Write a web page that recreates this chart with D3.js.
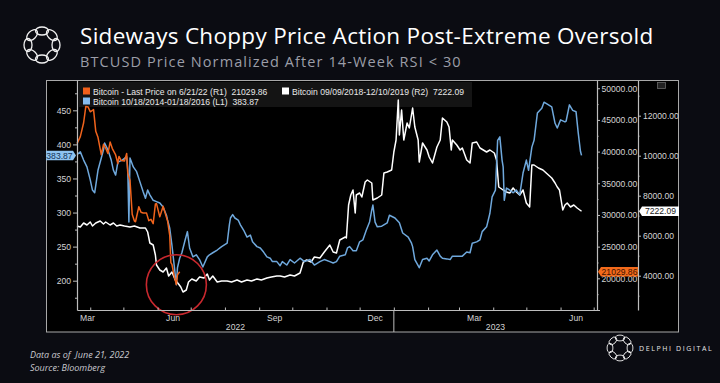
<!DOCTYPE html>
<html>
<head>
<meta charset="utf-8">
<script src="https://cdn.jsdelivr.net/npm/d3@7"></script>
<style>
  html, body { margin: 0; padding: 0; background: #0b0c12; }
  svg { display: block; }
</style>
</head>
<body>
<svg id="chart" width="720" height="383"></svg>
<script>
// all three series are counted in days from the RSI < 30 signal
var startDate = new Date(2022, 2, 20);
var axisEnd = new Date(2023, 6, 4);

// Bitcoin 2022 (R1)
var btc22Days = [0,3,6,8,10,12,15,17,19,22,24,26,28,30,32,35,37,38,40,43,45,46,48,50,52,53,56,58,60,63,65,67,69,71,72,75,78,80,82,84,85,86,88,90,91,93];
var btc22Vals = [41260,42370,44550,47130,47060,46280,46620,43200,42250,39520,41150,40550,39700,41500,40480,39470,38120,39240,38600,38530,39700,36580,35470,30100,29030,28930,31300,30440,30320,30290,29100,29300,28630,31720,31790,29700,31370,30210,29090,26760,22490,22200,20380,19020,20550,21029.86];

// Bitcoin 10/18/2014-01/18/2016 (L1)
var btc14Days = [0,3,6,9,12,14,16,19,22,24,25,28,31,33,35,37,41,45,46,47,48,51,54,57,60,62,64,66,69,72,75,78,81,82,84,86,88,90,91,93,95,98,100,102,105,108,111,114,118,120,123,127,131,136,138,139,141,143,146,148,151,154,157,159,163,166,169,172,175,177,181,184,186,190,193,197,202,206,211,215,220,224,229,232,235,238,243,245,247,250,253,256,259,262,265,267,268,270,272,276,281,283,288,292,295,300,303,304,306,309,310,313,317,319,322,326,329,331,335,338,340,345,349,353,356,358,362,365,367,371,374,376,379,381,383,385,386,387,389,392,395,398,401,404,407,409,412,414,417,421,423,426,430,433,435,438,442,443,446,449,452,454,456,457];
var btc14Vals = [385,389,377,367,348,333,329,362,380,392,402,392,377,362,355,374,377,382,362,286,380,367,360,345,330,321,333,326,318,316,314,308,296,289,277,252,223,194,219,233,241,260,272,248,235,238,231,220,235,238,241,245,250,255,282,292,297,292,289,282,274,264,267,257,250,248,242,235,233,228,228,222,228,223,231,226,233,228,231,223,228,231,228,226,228,236,238,248,250,244,244,257,260,274,286,304,311,286,279,280,285,296,292,285,270,264,255,250,231,222,219,231,233,229,238,245,236,233,232,231,236,236,236,242,241,255,257,260,272,279,299,323,333,406,411,377,367,318,336,333,329,333,326,358,377,362,396,406,446,453,462,459,455,431,424,436,433,434,458,450,448,417,390,383.87];

// Bitcoin 09/09/2018-12/10/2019 (R2)
var btc18Days = [0,3,6,9,12,14,17,21,24,26,30,33,36,39,43,48,52,57,62,64,66,69,71,72,75,78,81,83,86,89,92,94,96,99,101,104,108,111,115,118,120,123,127,131,136,140,145,149,154,158,163,167,172,176,181,184,188,193,197,202,205,208,212,215,220,224,229,232,235,238,243,244,246,248,250,252,253,256,258,261,263,267,268,272,276,278,281,285,287,289,291,292,294,296,299,301,304,306,309,310,313,317,319,322,326,329,331,335,337,339,340,344,347,349,353,356,358,362,365,368,371,374,378,380,382,386,389,392,395,398,401,404,407,410,412,414,418,422,425,430,433,435,437,440,442,444,447,450,453,457];
var btc18Vals = [6485,6435,6635,6535,6685,6485,6635,6735,6585,6685,6535,6635,6485,6535,6485,6435,6485,6385,6385,6185,5635,5535,5035,4535,4285,4185,4385,3985,4185,3785,3585,3435,3185,3285,3685,3835,3735,3935,3885,4085,3785,3985,3685,3735,3735,3685,3785,3685,3785,3735,3835,3785,3885,3935,3985,3985,3935,4035,3985,4135,4685,4785,4685,4935,4885,5185,5535,5185,5135,5785,5935,5885,7535,8035,8285,7135,8035,8135,7935,8685,8785,8635,7785,7885,8035,9135,9185,9285,10185,10785,12785,11035,12285,10785,11635,11385,12385,11435,10785,9685,10635,10285,9935,9635,10435,10785,11885,11685,11435,10285,10785,10535,10285,10385,9785,9635,10635,10685,10385,10285,10185,10285,10135,9785,8435,8285,8185,8135,8385,8185,8035,8285,7635,7435,9535,9535,9385,9285,9135,8885,8635,8435,8285,7285,7535,7635,7435,7535,7385,7222.09];

var leftTicks = [200, 250, 300, 350, 400, 450];
var r1Ticks = [15000, 20000, 25000, 30000, 35000, 40000, 45000, 50000];
var r2Ticks = [4000, 6000, 8000, 10000, 12000];
var monthLabelDates = ["2022-03-15", "2022-06-15", "2022-09-15", "2022-12-15", "2023-03-15", "2023-06-15"];
var yearLabels = ["2022", "2023"];

var legendItems = [
  { name: "Bitcoin - Last Price on 6/21/22 (R1)  21029.86", color: "#f2601a" },
  { name: "Bitcoin 10/18/2014-01/18/2016 (L1)  383.87", color: "#86bdf0" },
  { name: "Bitcoin 09/09/2018-12/10/2019 (R2)  7222.09", color: "#ffffff" }
];

var svg = d3.select("#chart");
var axisFont = "'Liberation Sans', Arial, sans-serif";
var axisColor = "#d4d4d4";

var plot = { left: 77, right: 597, top: 80, bottom: 310 };
var r2x = 638;

// header
function drawLogo(g, cx, cy, R, rx, ry, n, sw) {
  for (var i = 0; i < n; i++) {
    var a = i * 2 * Math.PI / n - Math.PI / 2;
    g.append("ellipse")
      .attr("cx", cx + R * Math.cos(a))
      .attr("cy", cy + R * Math.sin(a))
      .attr("rx", rx).attr("ry", ry)
      .attr("transform", "rotate(" + (a * 180 / Math.PI + 90) + "," + (cx + R * Math.cos(a)) + "," + (cy + R * Math.sin(a)) + ")")
      .attr("fill", "none").attr("stroke", "#f0f0f0").attr("stroke-width", sw);
  }
}
drawLogo(svg.append("g"), 42, 45, 14, 6.5, 4, 8, 1.3);

svg.append("text")
  .attr("x", 80).attr("y", 44)
  .attr("font-family", "'Open Sans', sans-serif").attr("font-size", 22.5)
  .attr("letter-spacing", 0.3)
  .attr("fill", "#ffffff")
  .text("Sideways Choppy Price Action Post-Extreme Oversold");

svg.append("text")
  .attr("x", 80).attr("y", 67)
  .attr("font-family", "'Open Sans', sans-serif").attr("font-size", 14.5)
  .attr("letter-spacing", 1.1)
  .attr("fill", "#9c9ea8")
  .text("BTCUSD Price Normalized After 14-Week RSI < 30");

// chart panel
svg.append("rect")
  .attr("x", 46.5).attr("y", 80.5).attr("width", 632).attr("height", 251.5)
  .attr("fill", "#000").attr("stroke", "#a8a8a8").attr("stroke-width", 1);

// scales
var x = d3.scaleTime().domain([startDate, axisEnd]).range([plot.left, plot.right]);
var yL = d3.scaleLinear().domain([157, 494.5]).range([plot.bottom, plot.top]);
var yR1 = d3.scaleLinear().domain([15000, 51300]).range([plot.bottom, plot.top]);
var yR2 = d3.scaleLinear().domain([2285, 13785]).range([plot.bottom, plot.top]);

function dayX(d) { return x(d3.timeDay.offset(startDate, d)); }

// legend box
var legend = svg.append("g");
legend.append("rect")
  .attr("x", 79).attr("y", 82).attr("width", 393).attr("height", 25)
  .attr("fill", "#141414");
var legendPos = [[83, 87.5], [83, 97.5], [282, 87.5]];
legendItems.forEach(function (item, i) {
  legend.append("rect")
    .attr("x", legendPos[i][0]).attr("y", legendPos[i][1])
    .attr("width", 7).attr("height", 7)
    .attr("fill", item.color);
  legend.append("text")
    .attr("x", legendPos[i][0] + 10).attr("y", legendPos[i][1] + 7)
    .attr("font-family", axisFont).attr("font-size", 8.6)
    .attr("fill", "#e8e8e8")
    .attr("xml:space", "preserve")
    .text(item.name);
});

// top-right menu icon
svg.append("rect")
  .attr("x", 657.5).attr("y", 82.5).attr("width", 8).attr("height", 6)
  .attr("fill", "#222").attr("stroke", "#666").attr("stroke-width", 0.8);

// lines
function drawLine(days, vals, yScale, color) {
  var pts = days.map(function (d, i) { return [dayX(d), yScale(vals[i])]; });
  svg.append("path")
    .attr("d", d3.line()(pts))
    .attr("fill", "none")
    .attr("stroke", color)
    .attr("stroke-width", 1.5)
    .attr("stroke-linejoin", "round");
}
drawLine(btc18Days, btc18Vals, yR2, "#ffffff");
drawLine(btc14Days, btc14Vals, yL, "#6fa8dc");
drawLine(btc22Days, btc22Vals, yR1, "#f0631c");

// red highlight circle
svg.append("circle")
  .attr("cx", dayX(90)).attr("cy", yR2(3550)).attr("r", 30)
  .attr("fill", "none").attr("stroke", "#c8282e").attr("stroke-width", 1.6);

// axes
function styleAxis(g) {
  g.selectAll("path").attr("stroke", "#bdbdbd").attr("stroke-width", 1.2);
  g.selectAll("line").attr("stroke", "#bdbdbd");
  g.selectAll("text").attr("fill", axisColor).attr("font-family", axisFont).attr("font-size", 8.6);
}

function minorTicks(lo, hi, step) {
  var out = [];
  for (var v = lo; v <= hi; v += step) out.push(v);
  return out;
}

var gL = svg.append("g").attr("transform", "translate(" + plot.left + ",0)")
  .call(d3.axisLeft(yL).tickValues(leftTicks).tickSize(4).tickSizeOuter(0).tickPadding(2));
styleAxis(gL);
var gLm = svg.append("g").attr("transform", "translate(" + plot.left + ",0)")
  .call(d3.axisLeft(yL).tickValues(minorTicks(175, 475, 50)).tickSize(2).tickFormat(""));
gLm.select("path").remove();
styleAxis(gLm);

var gR1 = svg.append("g").attr("transform", "translate(" + plot.right + ",0)")
  .call(d3.axisRight(yR1).tickValues(r1Ticks).tickSize(3).tickSizeOuter(0).tickPadding(1.5)
    .tickFormat(function (d) { return d === 15000 ? "" : d3.format(".2f")(d); }));
styleAxis(gR1);
var gR1m = svg.append("g").attr("transform", "translate(" + plot.right + ",0)")
  .call(d3.axisRight(yR1).tickValues(minorTicks(17500, 47500, 5000)).tickSize(1.5).tickFormat(""));
gR1m.select("path").remove();
styleAxis(gR1m);

var gR2 = svg.append("g").attr("transform", "translate(" + r2x + ",0)")
  .call(d3.axisRight(yR2).tickValues(r2Ticks).tickSize(3).tickSizeOuter(0).tickPadding(2)
    .tickFormat(d3.format(".2f")));
styleAxis(gR2);
var gR2m = svg.append("g").attr("transform", "translate(" + r2x + ",0)")
  .call(d3.axisRight(yR2).tickValues(minorTicks(3000, 13000, 2000)).tickSize(1.5).tickFormat(""));
gR2m.select("path").remove();
styleAxis(gR2m);

var gX = svg.append("g").attr("transform", "translate(0," + plot.bottom + ")")
  .call(d3.axisBottom(x).ticks(d3.timeMonth.every(1)).tickSize(-2.5).tickSizeOuter(0).tickFormat(""));
styleAxis(gX);

var parseDay = d3.timeParse("%Y-%m-%d");
var fmtMonth = d3.timeFormat("%b");
monthLabelDates.forEach(function (s) {
  var d = parseDay(s);
  var xx = Math.max(x(d), plot.left + 10.5);
  svg.append("text")
    .attr("x", xx).attr("y", plot.bottom + 10.5)
    .attr("text-anchor", "middle")
    .attr("font-family", axisFont).attr("font-size", 8.6)
    .attr("fill", axisColor)
    .text(fmtMonth(d));
});

var yearStart = x(new Date(2023, 0, 1));
svg.append("line")
  .attr("x1", yearStart).attr("x2", yearStart)
  .attr("y1", plot.bottom).attr("y2", 332)
  .attr("stroke", "#bdbdbd").attr("stroke-width", 1);
var yearMid = [(plot.left + yearStart) / 2, (yearStart + plot.right) / 2];
yearLabels.forEach(function (t, i) {
  svg.append("text")
    .attr("x", yearMid[i]).attr("y", 330)
    .attr("text-anchor", "middle")
    .attr("font-family", axisFont).attr("font-size", 8.6)
    .attr("fill", axisColor)
    .text(t);
});

// last value tags
function valueTag(xEdge, yy, w, side, fill, textColor, label) {
  var h = 9.5, a = 3;
  var pts;
  if (side === "left") {
    pts = [[xEdge, yy], [xEdge + a, yy - h / 2], [xEdge + w, yy - h / 2], [xEdge + w, yy + h / 2], [xEdge + a, yy + h / 2]];
  } else {
    pts = [[xEdge, yy], [xEdge - a, yy - h / 2], [xEdge - w, yy - h / 2], [xEdge - w, yy + h / 2], [xEdge - a, yy + h / 2]];
  }
  svg.append("path").attr("d", d3.line()(pts) + "Z").attr("fill", fill);
  svg.append("text")
    .attr("x", side === "left" ? xEdge + a + (w - a) / 2 : xEdge - a - (w - a) / 2)
    .attr("y", yy + 3.2)
    .attr("text-anchor", "middle")
    .attr("font-family", axisFont).attr("font-size", 8.6)
    .attr("fill", textColor)
    .text(label);
}
valueTag(plot.left - 1, yL(btc14Vals[btc14Vals.length - 1]), 30, "right", "#8ec3f0", "#143456", "383.87");
valueTag(plot.right + 1, yR1(btc22Vals[btc22Vals.length - 1]), 40, "left", "#f26a1b", "#3a1200", "21029.86");
valueTag(r2x + 1, yR2(btc18Vals[btc18Vals.length - 1]), 40, "left", "#ffffff", "#222222", "7222.09");

// footer
svg.append("text")
  .attr("x", 30).attr("y", 358)
  .attr("font-family", "'Open Sans', sans-serif").attr("font-style", "italic").attr("font-size", 9)
  .attr("fill", "#c9c9cf")
  .attr("xml:space", "preserve")
  .text("Data as of  June 21, 2022");
svg.append("text")
  .attr("x", 30).attr("y", 371)
  .attr("font-family", "'Open Sans', sans-serif").attr("font-style", "italic").attr("font-size", 9)
  .attr("fill", "#c9c9cf")
  .text("Source: Bloomberg");

drawLogo(svg.append("g"), 620, 348, 10, 4.6, 2.9, 8, 0.9);
svg.append("text")
  .attr("x", 639).attr("y", 351)
  .attr("font-family", "'Open Sans', sans-serif").attr("font-size", 7)
  .attr("letter-spacing", 1.6)
  .attr("fill", "#e6e6e6")
  .text("DELPHI DIGITAL");
</script>
</body>
</html>
